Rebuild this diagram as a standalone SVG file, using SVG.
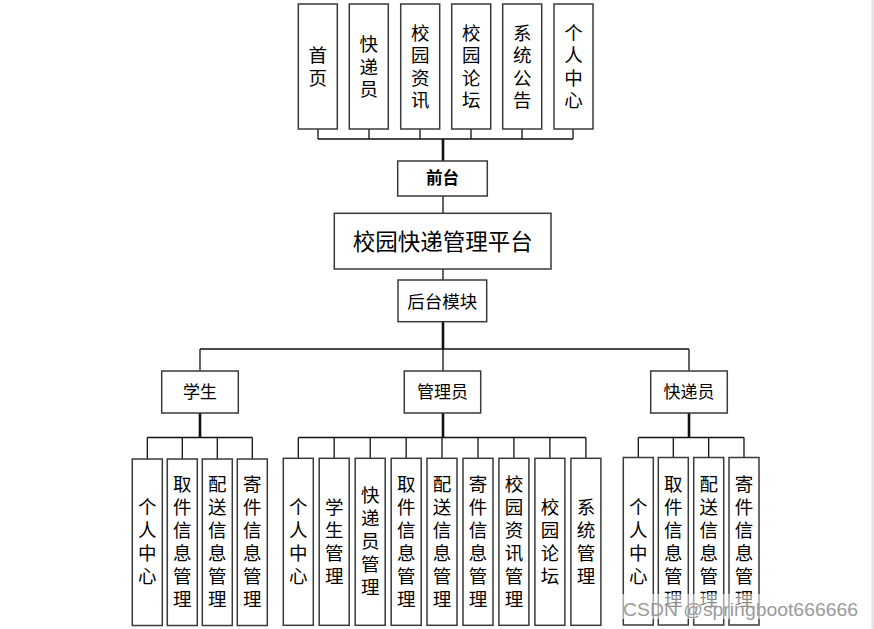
<svg xmlns="http://www.w3.org/2000/svg" width="874" height="629" viewBox="0 0 874 629">
<style>
.box{fill:#fff;stroke:#3a3a3a;stroke-width:1.5}
.t{font-family:"Noto Sans CJK SC","Noto Sans",sans-serif;fill:#000;text-anchor:middle}
.v{font-family:"Noto Sans CJK SC","Noto Sans",sans-serif;fill:#000;text-anchor:middle;font-size:18.5px;writing-mode:vertical-rl;letter-spacing:4.5px}
.vt{letter-spacing:4px}
.ln{stroke:#111;stroke-width:1.3;fill:none}
.thk{stroke:#111;stroke-width:2.6;fill:none}
.wm{font-family:"Liberation Sans",Arial,sans-serif;font-size:19px;fill:#9a9a9a}
</style>
<rect width="874" height="629" fill="#fff"/>
<rect x="871.5" y="0" width="2.5" height="629" fill="#e6e2e2"/>

<g id="connectors">
  <path class="ln" d="M318,129V139M369,129V139M420,129V139M471,129V139M522,129V139M573,129V139M318,139H573"/>
  <path class="thk" d="M443,139V161"/>
  <path class="ln" d="M443,196V213M443,269V280"/>
  <path class="thk" d="M443,322V349"/>
  <path class="ln" d="M200,349H689M200,349V371M443,349V371M689,349V371"/>
  <path class="thk" d="M200,413V437.5M443,413V437.5M689,413V437.5"/>
  <path class="ln" d="M147.3,437.5H252.3M147.3,437.5V459M182.3,437.5V459M217.3,437.5V459M252.3,437.5V459"/>
  <path class="ln" d="M298.3,437.5H585.9M298.3,437.5V458M334.2,437.5V458M370.2,437.5V458M406.2,437.5V458M442,437.5V458M478,437.5V458M513.9,437.5V458M549.9,437.5V458M585.9,437.5V458"/>
  <path class="ln" d="M638.3,437.5H744M638.3,437.5V458M673.3,437.5V458M708.7,437.5V458M744,437.5V458"/>
</g>

<g id="top-shouye"><rect class="box" x="298.3" y="4" width="39" height="125"/>
<text class="v vt" x="317.8" y="68.5">首页</text></g>
<g id="top-kuaidiyuan"><rect class="box" x="349.3" y="4" width="39" height="125"/>
<text class="v vt" x="368.8" y="68.5">快递员</text></g>
<g id="top-zixun"><rect class="box" x="400.7" y="4" width="39" height="125"/>
<text class="v vt" x="420.2" y="68.5">校园资讯</text></g>
<g id="top-luntan"><rect class="box" x="451.7" y="4" width="39" height="125"/>
<text class="v vt" x="471.2" y="68.5">校园论坛</text></g>
<g id="top-gonggao"><rect class="box" x="502.7" y="4" width="39" height="125"/>
<text class="v vt" x="522.2" y="68.5">系统公告</text></g>
<g id="top-geren"><rect class="box" x="554" y="4" width="39" height="125"/>
<text class="v vt" x="573.5" y="68.5">个人中心</text></g>

<g id="qiantai"><rect class="box" x="397.7" y="161" width="89.6" height="35"/>
<text class="t" x="442.5" y="184.3" font-size="16.5" font-weight="bold">前台</text></g>
<g id="platform"><rect class="box" x="334.3" y="213.3" width="216.7" height="55.7"/>
<text class="t" x="442.7" y="250" font-size="22.5">校园快递管理平台</text></g>
<g id="houtai"><rect class="box" x="398" y="280" width="88.7" height="41.7"/>
<text class="t" x="442.3" y="308" font-size="17.5">后台模块</text></g>

<g id="xuesheng"><rect class="box" x="161.7" y="371" width="76.6" height="42"/>
<text class="t" x="200" y="398" font-size="17">学生</text></g>
<g id="guanliyuan"><rect class="box" x="404.3" y="371" width="76.4" height="42"/>
<text class="t" x="442.5" y="398" font-size="17">管理员</text></g>
<g id="kuaidiyuan"><rect class="box" x="650.7" y="371" width="76.6" height="42"/>
<text class="t" x="689" y="398" font-size="17">快递员</text></g>

<g id="s-geren"><rect class="box" x="132.3" y="459" width="30" height="166.5"/>
<text class="v" x="147.3" y="543.5">个人中心</text></g>
<g id="s-qujian"><rect class="box" x="167.3" y="459" width="30" height="166.5"/>
<text class="v" x="182.3" y="543.5">取件信息管理</text></g>
<g id="s-peisong"><rect class="box" x="202.3" y="459" width="30" height="166.5"/>
<text class="v" x="217.3" y="543.5">配送信息管理</text></g>
<g id="s-jijian"><rect class="box" x="237.3" y="459" width="30" height="166.5"/>
<text class="v" x="252.3" y="543.5">寄件信息管理</text></g>

<g id="a-geren"><rect class="box" x="283.3" y="458.3" width="30" height="167"/>
<text class="v" x="298.3" y="543.5">个人中心</text></g>
<g id="a-xuesheng"><rect class="box" x="319.2" y="458.3" width="30" height="167"/>
<text class="v" x="334.2" y="543.5">学生管理</text></g>
<g id="a-kuaidiyuan"><rect class="box" x="355.2" y="458.3" width="30" height="167"/>
<text class="v" x="370.2" y="543.5">快递员管理</text></g>
<g id="a-qujian"><rect class="box" x="391.2" y="458.3" width="30" height="167"/>
<text class="v" x="406.2" y="543.5">取件信息管理</text></g>
<g id="a-peisong"><rect class="box" x="427" y="458.3" width="30" height="167"/>
<text class="v" x="442" y="543.5">配送信息管理</text></g>
<g id="a-jijian"><rect class="box" x="463" y="458.3" width="30" height="167"/>
<text class="v" x="478" y="543.5">寄件信息管理</text></g>
<g id="a-zixun"><rect class="box" x="498.9" y="458.3" width="30" height="167"/>
<text class="v" x="513.9" y="543.5">校园资讯管理</text></g>
<g id="a-luntan"><rect class="box" x="534.9" y="458.3" width="30" height="167"/>
<text class="v" x="549.9" y="543.5">校园论坛</text></g>
<g id="a-xitong"><rect class="box" x="570.9" y="458.3" width="30" height="167"/>
<text class="v" x="585.9" y="543.5">系统管理</text></g>

<g id="c-geren"><rect class="box" x="623.3" y="457.5" width="30" height="167.5"/>
<text class="v" x="638.3" y="543.5">个人中心</text></g>
<g id="c-qujian"><rect class="box" x="658.3" y="457.5" width="30" height="167.5"/>
<text class="v" x="673.3" y="543.5">取件信息管理</text></g>
<g id="c-peisong"><rect class="box" x="693.7" y="457.5" width="30" height="167.5"/>
<text class="v" x="708.7" y="543.5">配送信息管理</text></g>
<g id="c-jijian"><rect class="box" x="729" y="457.5" width="30" height="167.5"/>
<text class="v" x="744" y="543.5">寄件信息管理</text></g>

<g id="watermark">
<rect x="620" y="594" width="244" height="25" fill="#fff" fill-opacity="0.55"/>
<text class="wm" x="623" y="616" textLength="235" lengthAdjust="spacingAndGlyphs">CSDN @springboot666666</text>
</g>
</svg>
